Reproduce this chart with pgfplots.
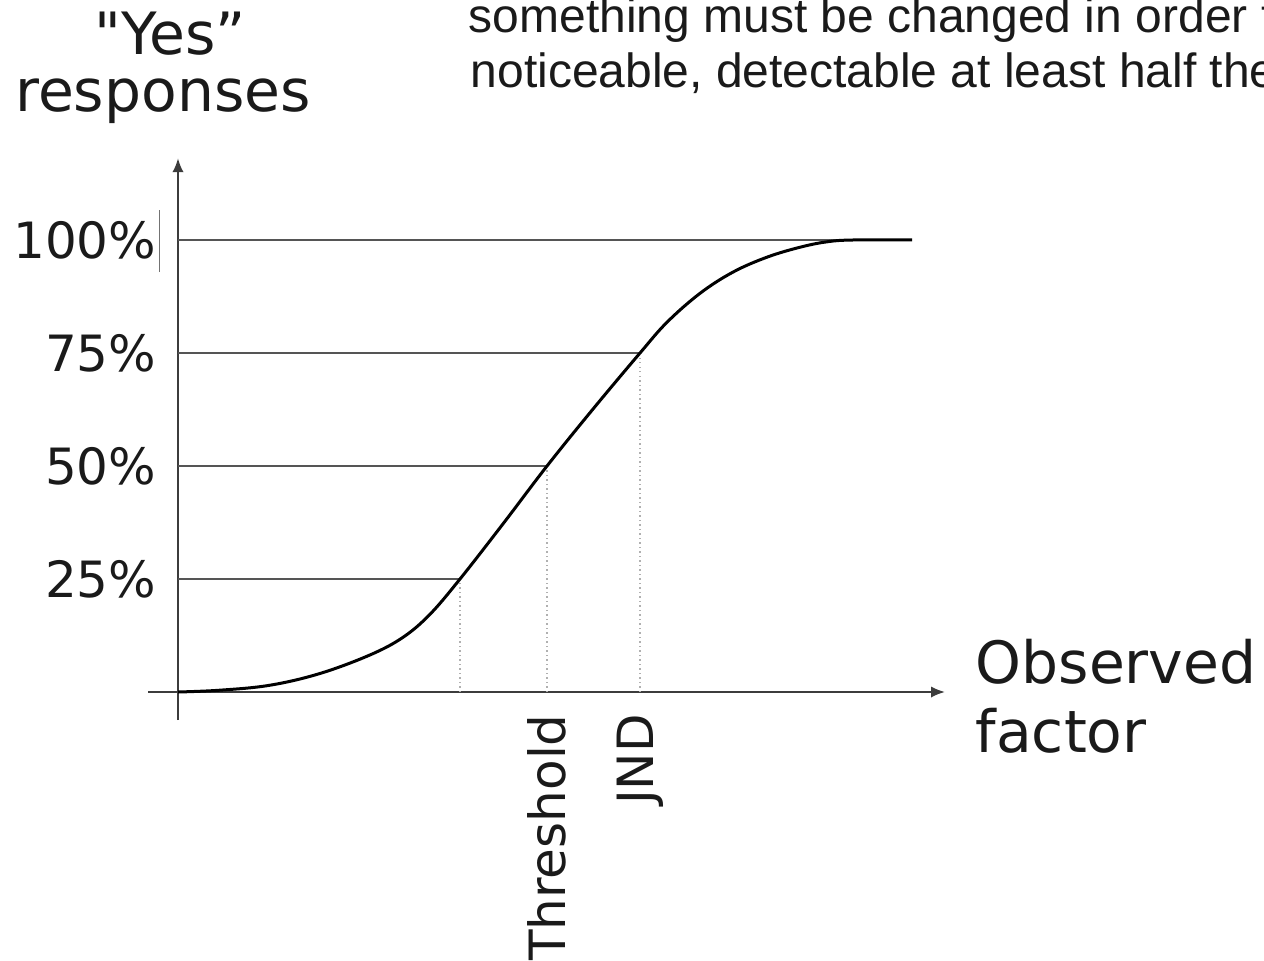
\documentclass[border=0pt]{standalone}
\usepackage{fontspec}
\setmainfont{DejaVu Sans}
\newfontfamily\dvplain{DejaVu Sans}
\newfontfamily\arialfont{Liberation Sans}
\usepackage{pgfplots}
\pgfplotsset{compat=1.18}
\usepackage{pgfplotstable}
\usetikzlibrary{arrows.meta}
\definecolor{axisgray}{HTML}{3C3C3C}
\definecolor{linegray}{HTML}{555555}
\definecolor{dotgray}{HTML}{B0B0B0}
\definecolor{txt}{HTML}{1A1A1A}

\pgfplotstableread{
x y
0 0
42 0.4
92 1.5
142 4.1
192 8.2
225 12.1
252 17.2
282 25
325 37.2
369 50
415 62.6
462 75
489 81.8
522 88.2
555 92.9
589 96.2
622 98.4
649 99.6
675 100
734 100
}\curvedata

\begin{document}
\begin{tikzpicture}
\useasboundingbox (0,0) rectangle (379.2pt,-288.3pt);
\begin{axis}[
  at={(53.4pt,-207.6pt)}, anchor=origin,
  x=0.3pt, y=1.356pt,
  xmin=-30, xmax=767, ymin=-6.2, ymax=118.1,
  axis lines=middle,
  axis line style={draw=axisgray, line width=0.6pt},
  every inner x axis line/.append style={-{Latex[length=4.2pt,width=3.4pt]}},
  every inner y axis line/.append style={-{Latex[length=4.2pt,width=3.4pt]}},
  xtick={369,462}, xticklabels={Threshold,JND},
  ytick={25,50,75,100}, yticklabels={25\%,50\%,75\%,100\%},
  major tick length=0pt,
  tick label style={font=\fontsize{15}{18}\selectfont, text=txt},
  xticklabel style={rotate=90, anchor=east, inner sep=0pt},
  xticklabel shift=6.5pt,
  yticklabel style={anchor=east, inner sep=0pt},
  yticklabel shift=6.3pt,
  clip=false,
  /pgf/number format/assume math mode=true,
]
% guide lines
\addplot[linegray, line width=0.65pt] coordinates {(0,100) (734,100)};
\addplot[linegray, line width=0.65pt] coordinates {(0,75) (462,75)};
\addplot[linegray, line width=0.65pt] coordinates {(0,50) (369,50)};
\addplot[linegray, line width=0.65pt] coordinates {(0,25) (282,25)};
\addplot[dotgray, line width=0.35pt, densely dotted] coordinates {(282,0) (282,25)};
\addplot[dotgray, line width=0.35pt, densely dotted] coordinates {(369,0) (369,50)};
\addplot[dotgray, line width=0.35pt, densely dotted] coordinates {(462,0) (462,75)};
% curve
\addplot[black, line width=0.9pt, smooth, tension=0.6] table[x=x,y=y] {\curvedata};
% cursor artifact
\draw[black!55, line width=0.3pt] (axis cs:-19,92.9) -- (axis cs:-19,106.6);
\end{axis}
% axis titles
\node[anchor=base, inner sep=0pt, text=txt, font=\dvplain\fontsize{17.5}{20}\selectfont] at (51pt,-16.5pt) {"Yes”};
\node[anchor=base, inner sep=0pt, text=txt, font=\fontsize{17.5}{20}\selectfont] at (48.9pt,-33.6pt) {responses};
\node[anchor=base west, inner sep=0pt, text=txt, font=\fontsize{17.5}{20}\selectfont] at (292.5pt,-204.9pt) {Observed};
\node[anchor=base west, inner sep=0pt, text=txt, font=\fontsize{17.5}{20}\selectfont] at (292.5pt,-225.6pt) {factor};
% header text (cut off at the right edge, as in the source)
\node[anchor=base west, inner sep=0pt, text=txt, font=\arialfont\fontsize{14.4}{17}\selectfont] at (140.4pt,-9.9pt) {something must be changed in order t};
\node[anchor=base west, inner sep=0pt, text=txt, font=\arialfont\fontsize{14.4}{17}\selectfont] at (141pt,-26.3pt) {noticeable, detectable at least half the};
\end{tikzpicture}
\end{document}
